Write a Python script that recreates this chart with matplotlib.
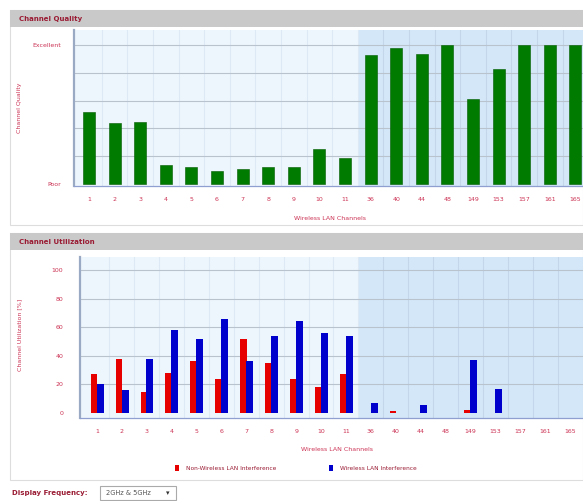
import matplotlib
matplotlib.use("Agg")
import matplotlib.pyplot as plt
from matplotlib.patches import Rectangle
import numpy as np

# Données
channels = ["1", "2", "3", "4", "5", "6", "7", "8", "9", "10", "11",
            "36", "40", "44", "48", "149", "153", "157", "161", "165"]
quality = [52, 44, 45, 14, 12, 9, 11, 12, 12, 25, 19,
           93, 98, 94, 100, 61, 83, 100, 100, 100]
non_wlan = [27, 38, 15, 28, 36, 24, 52, 35, 24, 18, 27,
            0, 1.5, 0, 0, 2, 0, 0, 0, 0]
wlan = [20, 16, 38, 58, 52, 66, 36, 54, 64, 56, 54,
        7, 0, 5.5, 0, 37, 17, 0, 0, 0]

W, H = 583, 501
DARK_RED = "#9a1c34"
TICK_RED = "#cc3355"
BG = "#eef6fd"
SHADE = "#d3e7f9"


def rect(l, t, r, b):
    return [l / W, 1 - b / H, (r - l) / W, (b - t) / H]


fig = plt.figure(figsize=(W / 100, H / 100), dpi=100)
fig.patch.set_facecolor("white")

# cadres et bandeaux gris
for top, bottom, title in [(10, 225, "Channel Quality"), (233, 480, "Channel Utilization")]:
    fig.patches.append(Rectangle((10 / W, 1 - bottom / H), (W - 10) / W, (bottom - top) / H,
                                 transform=fig.transFigure, facecolor="white",
                                 edgecolor="#dddddd", lw=0.8, zorder=-2))
    fig.patches.append(Rectangle((10 / W, 1 - (top + 17) / H), (W - 10) / W, 17 / H,
                                 transform=fig.transFigure, facecolor="#c9c9c9",
                                 edgecolor="none", zorder=-1))
    fig.text(19 / W, 1 - (top + 8.5) / H, title, color=DARK_RED, fontsize=5,
             fontweight="bold", va="center", ha="left")

x = np.arange(len(channels))


def style_axes(ax, xlim, ylim):
    ax.set_facecolor(BG)
    ax.set_xlim(*xlim)
    ax.set_ylim(*ylim)
    ax.axvspan(10.5, xlim[1], color=SHADE, zorder=0, lw=0)
    for b in np.arange(0.5, len(channels), 1.0):
        ax.axvline(b, color="#c3d6ea" if b > 10.5 else "#dde9f5", lw=0.8, zorder=0.5)
    for s in ["top", "right"]:
        ax.spines[s].set_visible(False)
    ax.spines["left"].set_color("#9aaac4")
    ax.spines["left"].set_linewidth(1.6)
    ax.spines["bottom"].set_color("#8f9fd0")
    ax.spines["bottom"].set_linestyle((0, (2, 1)))
    ax.spines["bottom"].set_linewidth(0.9)
    ax.set_xticks(x)
    ax.set_xticklabels(channels)
    ax.tick_params(axis="both", length=0, labelsize=4.5, labelcolor=TICK_RED)
    ax.tick_params(axis="x", pad=8)


# --- Channel Quality ---
ax1 = fig.add_axes(rect(74, 30, 583, 186))
style_axes(ax1, (-0.59, 19.3), (-1.5, 111))
for g in [20, 40, 60, 80, 100]:
    ax1.axhline(g, color="#b9c3ce", lw=0.8, zorder=0.6)
ax1.bar(x, quality, width=0.47, color="#007b00", edgecolor="#005a00", lw=0.4, zorder=2)
ax1.set_yticks([0, 100])
ax1.set_yticklabels(["Poor", "Excellent"])
ax1.tick_params(axis="y", pad=9)
ax1.set_ylabel("Channel Quality", color=TICK_RED, fontsize=4.5)
ax1.yaxis.set_label_coords(-0.102, 0.5)
ax1.set_xlabel("Wireless LAN Channels", color=TICK_RED, fontsize=4.5)
ax1.xaxis.set_label_coords(0.503, -0.19)

# --- Channel Utilization ---
ax2 = fig.add_axes(rect(80, 257, 583, 418))
style_axes(ax2, (-0.68, 19.52), (-3.5, 109))
for g in [20, 40, 60, 80, 100]:
    ax2.axhline(g, color="#b9c3ce", lw=0.8, zorder=0.6)
b1 = ax2.bar(x - 0.12, non_wlan, width=0.26, color="#e60000", lw=0,
             zorder=2, label="Non-Wireless LAN Interference")
b2 = ax2.bar(x + 0.13, wlan, width=0.28, color="#0000cc", lw=0,
             zorder=2, label="Wireless LAN Interference")
ax2.set_yticks([0, 20, 40, 60, 80, 100])
ax2.tick_params(axis="y", pad=12)
ax2.set_ylabel("Channel Utilization [%]", color=TICK_RED, fontsize=4.5)
ax2.yaxis.set_label_coords(-0.115, 0.515)
ax2.set_xlabel("Wireless LAN Channels", color=TICK_RED, fontsize=4.5)
ax2.xaxis.set_label_coords(0.51, -0.18)

leg = ax2.legend(handles=[b1, b2], ncol=2, loc="center",
                 bbox_to_anchor=(296 / W, 1 - 468 / H), bbox_transform=fig.transFigure,
                 frameon=False, fontsize=4.2, handlelength=0.7, handleheight=1.3,
                 handletextpad=1.2, columnspacing=9)
for t in leg.get_texts():
    t.set_color(DARK_RED)

# sélecteur en bas
fig.text(12 / W, 1 - 493 / H, "Display Frequency:", color=DARK_RED, fontsize=5,
         fontweight="bold", va="center", ha="left")
fig.patches.append(Rectangle((100 / W, 1 - 500 / H), 76 / W, 14 / H,
                             transform=fig.transFigure, facecolor="white",
                             edgecolor="#aaaaaa", lw=0.8))
fig.text(106 / W, 1 - 493 / H, "2GHz & 5GHz", color="#555555", fontsize=4.8,
         va="center", ha="left")
fig.text(168 / W, 1 - 493 / H, "\u25be", color="#333333", fontsize=5,
         va="center", ha="center")

plt.savefig("out.png", dpi=100)
